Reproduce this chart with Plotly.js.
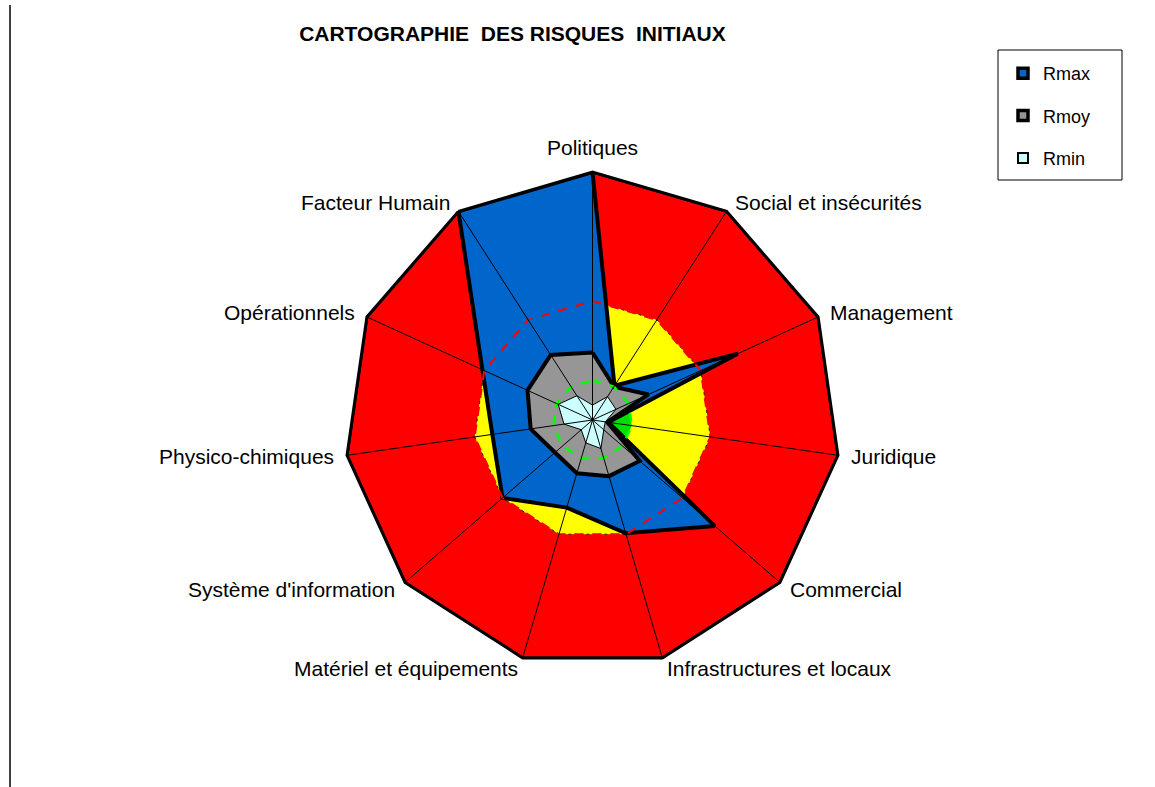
<!DOCTYPE html>
<html>
<head>
<meta charset="utf-8">
<script src="https://cdn.plot.ly/plotly-3.0.1.min.js"></script>
<style>html,body{margin:0;padding:0;background:#fff;}#chart{width:1155px;height:787px;}</style>
</head>
<body>
<div id="chart"></div>
<script>
// Categories (clockwise from top)
const categories = ["Politiques", "Social et insécurités", "Management", "Juridique", "Commercial",
  "Infrastructures et locaux", "Matériel et équipements", "Système d'information",
  "Physico-chimiques", "Opérationnels", "Facteur Humain"];

// Zones of the risk scale
const zoneRed = [25, 25, 25, 25, 25, 25, 25, 25, 25, 25, 25];
const zoneYellow = [12, 12, 12, 12, 12, 12, 12, 12, 12, 12, 12];
const zoneGreen = [4, 4, 4, 4, 4, 4, 4, 4, 4, 4, 4];
const scaleMax = 25;

// Series
const rMax = [25, 4.1, 16.1, 1.6, 16.3, 11.9, 9.2, 12.0, 10.2, 12.2, 25];
const rMoy = [6.8, 4.0, 6.2, 1.5, 6.3, 5.9, 5.6, 5.0, 6.3, 7.2, 7.8];
const rMin = [1.5, 2.8, 2.6, 1.3, 1.5, 3.0, 2.4, 1.5, 2.9, 3.8, 2.9];

const seriesNames = ["Rmax", "Rmoy", "Rmin"];
const seriesColors = ["#0066CC", "#969696", "#CCFFFF"];

function closed(a) { return a.concat([a[0]]); }
const theta = closed(categories);

function area(r, fill, lineColor, lineWidth, dash) {
  return {
    type: "scatterpolar", r: closed(r), theta: theta, mode: "lines",
    fill: fill ? "toself" : "none", fillcolor: fill || undefined,
    line: {color: lineColor, width: lineWidth, dash: dash || "solid"},
    showlegend: false, hoverinfo: "skip"
  };
}

// spokes (category axis lines), drawn above the filled areas
const spokeR = [], spokeT = [];
categories.forEach(function (c) { spokeR.push(0, scaleMax, null); spokeT.push(c, c, null); });

const traces = [
  area(zoneRed, "#FF0000", "#000000", 3),
  area(zoneYellow, "#FFFF00", "#202020", 1, "dot"),
  area(zoneGreen, "#00E000", "rgba(0,0,0,0)", 0),
  area(rMax, seriesColors[0], "#000000", 4),
  area(rMoy, seriesColors[1], "#000000", 4),
  area(zoneYellow, null, "#FF0000", 2, "dash"),
  area(zoneGreen, null, "#00FF00", 2.5, "dash"),
  area(rMin, seriesColors[2], "#000000", 1),
  {type: "scatterpolar", r: spokeR, theta: spokeT, mode: "lines", connectgaps: false,
    line: {color: "#000", width: 1}, showlegend: false, hoverinfo: "skip"}
];

// legend entries (markers placed outside a hidden axis range, so only the legend shows them)
const legendLines = [3.5, 3.5, 2];
seriesNames.forEach(function (n, i) {
  traces.push({
    type: "scatter", x: [10], y: [10], xaxis: "x", yaxis: "y", mode: "markers", name: n,
    legendgroup: n, cliponaxis: true, hoverinfo: "skip",
    marker: {symbol: "square", size: 10, color: seriesColors[i], line: {color: "#000", width: legendLines[i]}},
    showlegend: true
  });
});

const W = 1155, H = 787;
const cx = 592.5, cy = 420, R = 248;

// category labels placed just outside each polygon vertex
const labelPad = 11;
const annotations = categories.map(function (c, i) {
  const a = i * 2 * Math.PI / categories.length;
  const s = Math.sin(a), co = Math.cos(a);
  const px = cx + (R + labelPad) * s, py = cy - (R + labelPad) * co;
  return {
    text: c, xref: "paper", yref: "paper", x: px / W, y: 1 - py / H, showarrow: false,
    xanchor: Math.abs(s) < 0.1 ? "center" : (s > 0 ? "left" : "right"),
    yanchor: (Math.abs(s) < 0.1 && co > 0) ? "bottom" : "middle",
    font: {size: 21, color: "#000"}
  };
});

const layout = {
  width: W, height: H,
  margin: {l: 0, r: 0, t: 0, b: 0},
  paper_bgcolor: "#ffffff",
  plot_bgcolor: "rgba(0,0,0,0)",
  font: {family: "Liberation Sans, Arial, sans-serif", color: "#000"},
  title: {
    text: "CARTOGRAPHIE\u00a0 DES RISQUES\u00a0 INITIAUX",
    font: {size: 21, family: "Liberation Sans, Arial, sans-serif", color: "#000", weight: "bold"},
    x: 0.4437, xanchor: "center", y: 1 - 34 / H, yanchor: "middle"
  },
  xaxis: {domain: [0.95, 0.96], range: [0, 1], visible: false, fixedrange: true},
  yaxis: {domain: [0.01, 0.02], range: [0, 1], visible: false, fixedrange: true},
  polar: {
    domain: {x: [(cx - R) / W, (cx + R) / W], y: [1 - (cy + R) / H, 1 - (cy - R) / H]},
    bgcolor: "rgba(0,0,0,0)",
    gridshape: "linear",
    layer: "above traces",
    radialaxis: {range: [0, scaleMax], visible: true, showticklabels: false, ticks: "",
      showgrid: false, showline: false},
    angularaxis: {
      direction: "clockwise", rotation: 90,
      categoryorder: "array", categoryarray: categories,
      showgrid: true, gridcolor: "#000000", gridwidth: 1,
      showline: true, linecolor: "#000000", linewidth: 3,
      ticks: "", showticklabels: false
    }
  },
  annotations: annotations,
  showlegend: true,
  legend: {
    x: 1003 / W, y: 1 - 55 / H, xanchor: "left", yanchor: "top",
    bgcolor: "rgba(0,0,0,0)", borderwidth: 0,
    font: {size: 18, color: "#000"},
    tracegroupgap: 16, itemsizing: "trace"
  },
  shapes: [
    {type: "line", xref: "paper", yref: "paper", x0: 10 / W, x1: 10 / W, y0: 0, y1: 1 - 5 / H,
      line: {color: "#000", width: 1.5}},
    {type: "rect", xref: "paper", yref: "paper", x0: 998 / W, x1: 1122 / W, y0: 1 - 180 / H, y1: 1 - 50 / H,
      line: {color: "#000", width: 1}, fillcolor: "rgba(0,0,0,0)"}
  ]
};

Plotly.newPlot("chart", traces, layout, {displayModeBar: false, staticPlot: true});
</script>
</body>
</html>
